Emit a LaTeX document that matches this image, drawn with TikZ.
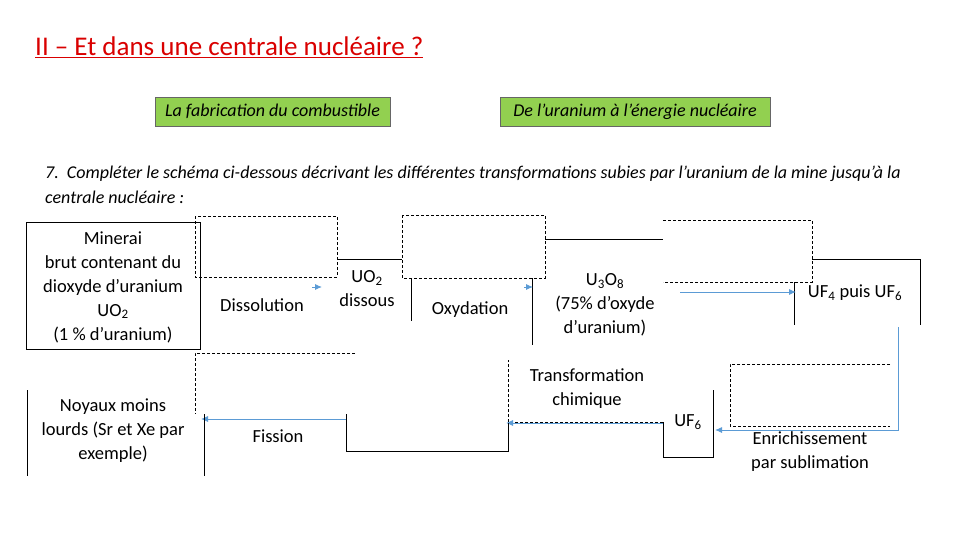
\documentclass[tikz,border=0pt]{standalone}
\usepackage{fontspec}
\setmainfont{Carlito}
\usetikzlibrary{arrows.meta}
\begin{document}
\begin{tikzpicture}[x=1pt,y=-1pt,
  lbl/.style={font=\fontsize{18.5}{24}\selectfont,align=center,inner sep=0},
  sol/.style={draw=black,line width=0.8pt},
  dsh/.style={draw=black,line width=0.8pt,dash pattern=on 3pt off 2pt},
  blu/.style={draw={rgb,255:red,91;green,155;blue,213},line width=0.9pt,-{Latex[length=7pt,width=6pt]}},
  greenbox/.style={draw=black!60,fill={rgb,255:red,146;green,208;blue,80},line width=0.6pt,font=\itshape\fontsize{18}{20}\selectfont,inner sep=0}]
\useasboundingbox (0,0) rectangle (960,540);
\node[anchor=west,text=red!85!black,font=\fontsize{27}{30}\selectfont,inner sep=0] (title) at (35,47) {\underline{II – Et dans une centrale nucléaire ?}};
\node[greenbox,minimum width=235pt,minimum height=29pt] (g1) at (272.5,111.5) {La fabrication du combustible};
\node[greenbox,minimum width=270pt,minimum height=29pt] (g2) at (635,111.5) {De l'uranium à l'énergie nucléaire};
\node[anchor=west,font=\itshape\fontsize{18}{20}\selectfont,inner sep=0] (q1) at (45,174) {7.\ \ Compléter le schéma ci-dessous décrivant les différentes transformations subies par l’uranium de la mine jusqu’à la};
\node[anchor=west,font=\itshape\fontsize{18}{20}\selectfont,inner sep=0] (q2) at (45,197) {centrale nucléaire :};
% top row
\draw[sol] (26,222) rectangle (200,349);
\draw[dsh] (195,216) rectangle (337,277);
\draw[sol] (337,259) -- (402,259);
\draw[dsh] (402,215) rectangle (545,278);
\draw[sol] (411,278) -- (411,321);
\draw[sol] (532,278) -- (532,345);
\draw[sol] (545,239) -- (663,239);
\draw[dsh] (663,220) -- (812,220) -- (812,282) -- (663,282);
\draw[sol] (794,282) -- (794,325);
\draw[sol] (812,259) -- (920,259) -- (920,325);
\coordinate (a1) at (312,287); \coordinate (a1e) at (322,287);
\draw[blu] (a1) -- (a1e);
\coordinate (a2) at (524,287); \coordinate (a2e) at (533,287);
\draw[blu] (a2) -- (a2e);
\coordinate (a3) at (680,292); \coordinate (a3e) at (796,292);
\draw[blu] (a3) -- (a3e);
\coordinate (a4) at (898,327); \coordinate (a4e) at (715,430);
\draw[blu] (a4) |- (a4e);
% bottom row
\draw[dsh] (890,364) -- (730,364) -- (730,426) -- (890,426);
\draw[sol] (663,422) -- (663,457) -- (713,457) -- (713,390);
\draw[dsh] (663,422) -- (508,422) -- (508,360);
\coordinate (a5) at (663,423); \coordinate (a5e) at (506,423);
\draw[blu] (a5) -- (a5e);
\draw[sol] (508,423) -- (508,451) -- (346,451) -- (346,414);
\coordinate (a6) at (346,419); \coordinate (a6e) at (201,419);
\draw[blu] (a6) -- (a6e);
\draw[dsh] (355,353) -- (195,353) -- (195,414);
\draw[sol] (204,414) -- (204,476);
\draw[sol] (27,390) -- (27,476);
% texts
\node[lbl] (t1) at (113,287) {Minerai\\brut contenant du\\dioxyde d’uranium\\UO\textsubscript{2}\\(1 \% d’uranium)};
\node[lbl] (t2) at (262,305) {Dissolution};
\node[lbl] (t3) at (367,289) {UO\textsubscript{2}\\dissous};
\node[lbl] (t4) at (470,310) {Oxydation};
\node[lbl] (t5) at (605,305) {U\textsubscript{3}O\textsubscript{8}\\(75\% d’oxyde\\d’uranium)};
\node[lbl] (t6) at (855,293) {UF\textsubscript{4} puis UF\textsubscript{6}};
\node[lbl] (t7) at (113,431) {Noyaux moins\\lourds (Sr et Xe par\\exemple)};
\node[lbl] (t8) at (278,436) {Fission};
\node[lbl] (t9) at (587,389) {Transformation\\chimique};
\node[lbl] (t10) at (688,422) {UF\textsubscript{6}};
\node[lbl] (t11) at (810,452) {Enrichissement\\par sublimation};
\end{tikzpicture}
\end{document}
